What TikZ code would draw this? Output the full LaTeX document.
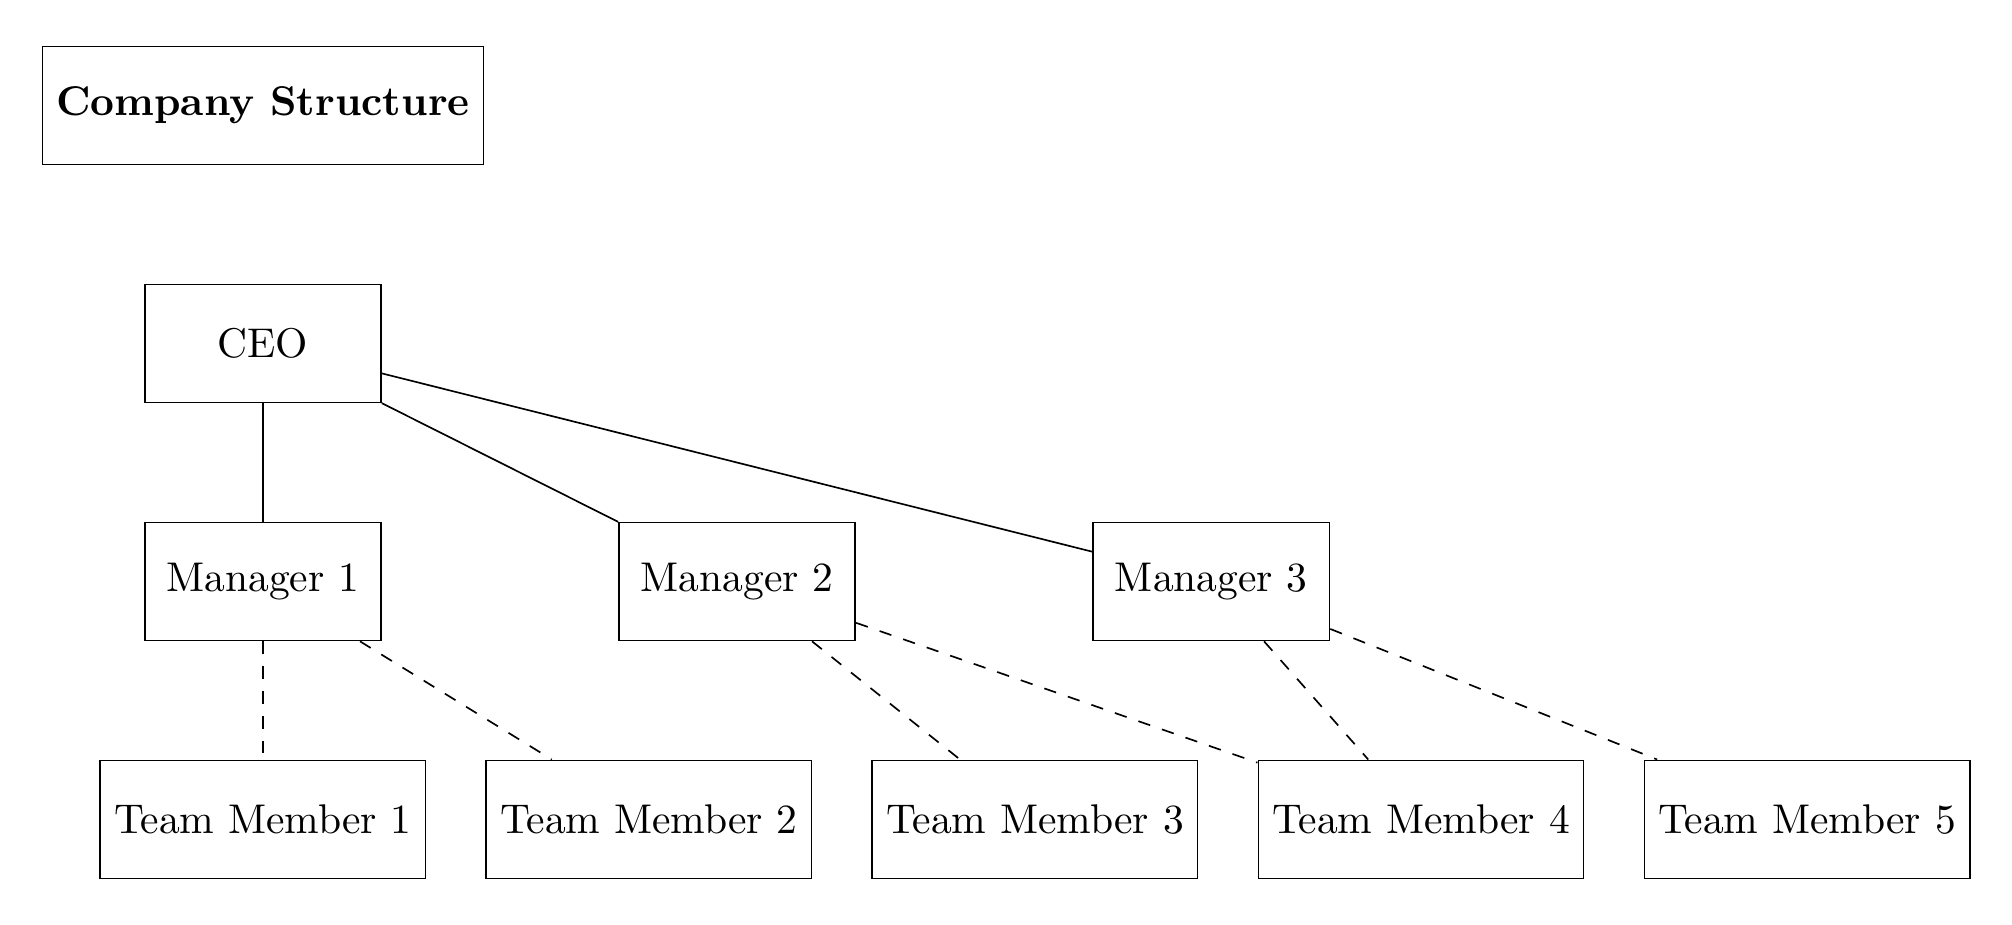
\documentclass[tikz,border=0pt]{standalone}
\usetikzlibrary{positioning}
\begin{document}
\begin{tikzpicture}[
    node distance=1cm and 2cm,
    box/.style={draw, rectangle, minimum width=2cm, minimum height=1cm},
    ]
    % Title
    \node[box, font=\bfseries] (title) {Company Structure};

    % CEO
    \node[box, below=of title] (ceo) {CEO};

    % Managers
    \node[box, below=of ceo] (man1) {Manager 1};
    \node[box, right=of man1] (man2) {Manager 2};
    \node[box, right=of man2] (man3) {Manager 3};

    % Team members
    \node[box, below=of man1] (tm1) {Team Member 1};
    \node[box, right=0.5cm of tm1] (tm2) {Team Member 2};
    \node[box, right=0.5cm of tm2] (tm3) {Team Member 3};
    \node[box, right=0.5cm of tm3] (tm4) {Team Member 4};
    \node[box, right=0.5cm of tm4] (tm5) {Team Member 5};

    % CEO to managers
    \draw (ceo) -- (man1);
    \draw (ceo) -- (man2);
    \draw (ceo) -- (man3);

    % Managers to team members
    \draw[dashed] (man1) -- (tm1);
    \draw[dashed] (man1) -- (tm2);
    \draw[dashed] (man2) -- (tm3);
    \draw[dashed] (man2) -- (tm4);
    \draw[dashed] (man3) -- (tm4);
    \draw[dashed] (man3) -- (tm5);

    % Margins
    \useasboundingbox ([shift={(-10pt,-11pt)}]current bounding box.south west)
        rectangle ([shift={(10pt,11pt)}]current bounding box.north east);
\end{tikzpicture}
\end{document}
